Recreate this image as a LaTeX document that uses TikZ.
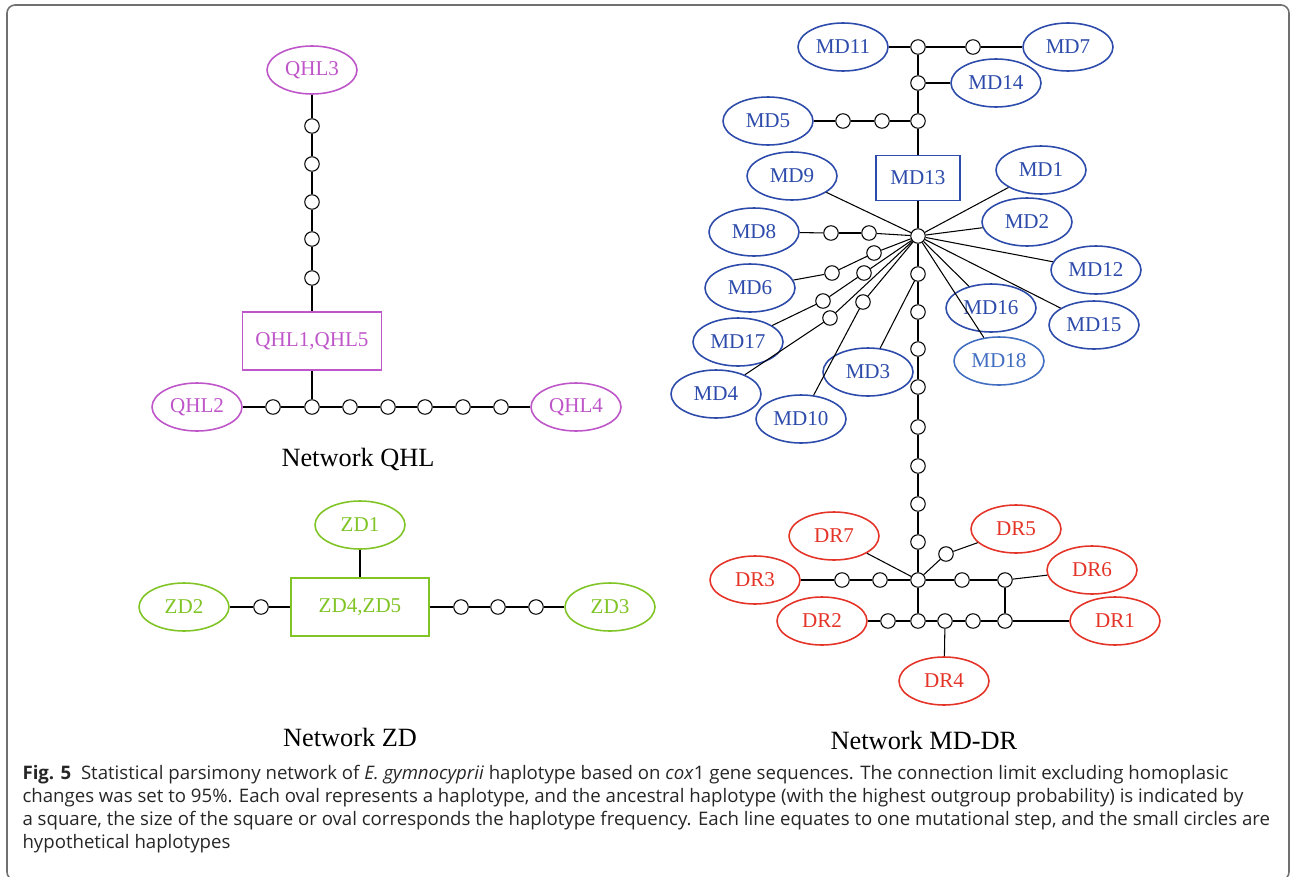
\documentclass[tikz,border=0pt]{standalone}
\usepackage{fontspec}
\setmainfont{Liberation Serif}
\newfontfamily\capfont{Open Sans}
\usepackage{tikz}
\usetikzlibrary{shapes}
\usepackage{xcolor}
\definecolor{qhl}{RGB}{190,85,200}
\definecolor{zd}{RGB}{128,196,38}
\definecolor{md}{RGB}{45,75,170}
\definecolor{mdl}{RGB}{65,110,192}
\definecolor{dr}{RGB}{228,52,40}
\definecolor{frame}{RGB}{112,112,112}

\begin{document}
\begin{tikzpicture}[x=0.02cm, y=-0.02cm, line width=0.6pt,
hap node/.style={ellipse, draw, line width=0.9pt, minimum width=1.8cm, minimum height=0.96cm, inner sep=0pt, font=\fontsize{12}{14}\selectfont},
anc node/.style={rectangle, draw, line width=0.9pt, inner sep=0pt, font=\fontsize{12}{14}\selectfont},
mv node/.style={circle, draw, fill=white, minimum size=0.29cm, inner sep=0pt},
net node/.style={font=\fontsize{15}{18}\selectfont}]
\useasboundingbox (0,0) rectangle (1292,876);
\draw[frame, line width=0.9pt, rounded corners=0.16cm] (7,5) rectangle (1289,880);

% QHL
\node[hap node, qhl] (qhl3) at (312,70) {QHL3};
\node[mv node] (q1) at (312,126) {};
\node[mv node] (q2) at (312,164) {};
\node[mv node] (q3) at (312,202) {};
\node[mv node] (q4) at (312,239) {};
\node[mv node] (q5) at (312,278) {};
\node[anc node, qhl, minimum width=2.78cm, minimum height=1.16cm] (qhl15) at (312,341) {QHL1,QHL5};
\node[hap node, qhl] (qhl2) at (197,407) {QHL2};
\node[mv node] (q6) at (273,407) {};
\node[mv node] (q7) at (312,407) {};
\node[mv node] (q8) at (350,407) {};
\node[mv node] (q9) at (388,407) {};
\node[mv node] (q10) at (425,407) {};
\node[mv node] (q11) at (463,407) {};
\node[mv node] (q12) at (501,407) {};
\node[hap node, qhl] (qhl4) at (576,407) {QHL4};
\node[net node] (netq) at (358,459) {Network QHL};
\path
(qhl3) edge (q1) (q1) edge (q2) (q2) edge (q3) (q3) edge (q4) (q4) edge (q5)
(q5) edge (qhl15) (qhl15) edge (q7)
(qhl2) edge (q6) (q6) edge (q7) (q7) edge (q8) (q8) edge (q9) (q9) edge (q10)
(q10) edge (q11) (q11) edge (q12) (q12) edge (qhl4);

% ZD
\node[hap node, zd] (zd1) at (360,525) {ZD1};
\node[anc node, zd, minimum width=2.76cm, minimum height=1.16cm] (zd45) at (360,607) {ZD4,ZD5};
\node[hap node, zd] (zd2) at (184,607) {ZD2};
\node[mv node] (z1) at (261,607) {};
\node[mv node] (z2) at (461,607) {};
\node[mv node] (z3) at (498,607) {};
\node[mv node] (z4) at (536,607) {};
\node[hap node, zd] (zd3) at (610,607) {ZD3};
\node[net node] (netz) at (350,737) {Network ZD};
\path
(zd1) edge (zd45)
(zd2) edge (z1) (z1) edge (zd45)
(zd45) edge (z2) (z2) edge (z3) (z3) edge (z4) (z4) edge (zd3);

% MD
\node[hap node, md] (md11) at (843,47) {MD11};
\node[mv node] (m1) at (918,47) {};
\node[mv node] (m2) at (973,47) {};
\node[hap node, md] (md7) at (1068,47) {MD7};
\node[mv node] (m3) at (918,83) {};
\node[hap node, md] (md14) at (996,83) {MD14};
\node[mv node] (m4) at (918,121) {};
\node[mv node] (m5) at (882,121) {};
\node[mv node] (m6) at (843,121) {};
\node[hap node, md] (md5) at (768,121) {MD5};
\node[anc node, md, minimum width=1.68cm, minimum height=0.9cm] (md13) at (918,178) {MD13};
\node[mv node] (m7) at (918,236) {};
\node[hap node, md] (md9) at (792,176) {MD9};
\node[hap node, md] (md1) at (1041,170) {MD1};
\node[hap node, md] (md2) at (1027,222) {MD2};
\node[hap node, md] (md8) at (754,232) {MD8};
\node[mv node] (m8) at (831,233) {};
\node[mv node] (m9) at (869,233) {};
\node[hap node, md] (md12) at (1096,270) {MD12};
\node[hap node, md] (md16) at (991,308) {MD16};
\node[hap node, md] (md15) at (1094,325) {MD15};
\node[hap node, mdl] (md18) at (999,361) {MD18};
\node[hap node, md] (md6) at (750,288) {MD6};
\node[mv node] (m10) at (874,253) {};
\node[mv node] (m11) at (832,273) {};
\node[hap node, md] (md17) at (738,342) {MD17};
\node[mv node] (m12) at (864,273) {};
\node[mv node] (m13) at (823,301) {};
\node[hap node, md] (md4) at (716,394) {MD4};
\node[mv node] (m14) at (830,318) {};
\node[hap node, md] (md10) at (801,419) {MD10};
\node[mv node] (m15) at (863,302) {};
\node[hap node, md] (md3) at (868,372) {MD3};
\node[mv node] (m16) at (918,274) {};
\node[mv node] (m17) at (918,312) {};
\node[mv node] (m18) at (918,349) {};
\node[mv node] (m19) at (918,387) {};
\node[mv node] (m20) at (918,427) {};
\node[mv node] (m21) at (918,466) {};
\node[mv node] (m22) at (918,504) {};
\node[mv node] (m23) at (918,542) {};
\path
(md11) edge (m1) (m1) edge (m2) (m2) edge (md7)
(m1) edge (m3) (m3) edge (md14) (m3) edge (m4)
(md5) edge (m6) (m6) edge (m5) (m5) edge (m4)
(m4) edge (md13) (md13) edge (m7)
(md9) edge (m7) (md1) edge (m7) (md2) edge (m7)
(md12) edge (m7) (md16) edge (m7) (md15) edge (m7) (md18) edge (m7)
(md8) edge (m8) (m8) edge (m9) (m9) edge (m7)
(md6) edge (m11) (m11) edge (m10) (m10) edge (m7)
(md17) edge (m13) (m13) edge (m12) (m12) edge (m7)
(md4) edge (m14) (m14) edge (m7)
(md10) edge (m15) (m15) edge (m7)
(m7) edge (m16) (m16) edge (md3)
(m16) edge (m17) (m17) edge (m18) (m18) edge (m19) (m19) edge (m20)
(m20) edge (m21) (m21) edge (m22) (m22) edge (m23);

% DR
\node[mv node] (d1) at (918,580) {};
\node[hap node, dr] (dr7) at (834,536) {DR7};
\node[hap node, dr] (dr5) at (1016,529) {DR5};
\node[mv node] (d2) at (946,554) {};
\node[hap node, dr] (dr3) at (755,580) {DR3};
\node[mv node] (d3) at (842,580) {};
\node[mv node] (d4) at (880,580) {};
\node[mv node] (d5) at (962,580) {};
\node[mv node] (d6) at (1005,580) {};
\node[hap node, dr] (dr6) at (1092,570) {DR6};
\node[hap node, dr] (dr2) at (822,621) {DR2};
\node[mv node] (d7) at (888,621) {};
\node[mv node] (d8) at (918,621) {};
\node[mv node] (d9) at (945,621) {};
\node[mv node] (d10) at (973,621) {};
\node[mv node] (d11) at (1005,621) {};
\node[hap node, dr] (dr1) at (1115,621) {DR1};
\node[hap node, dr] (dr4) at (944,681) {DR4};
\node[net node] (netm) at (924,740) {Network MD-DR};
\path
(m23) edge (d1) (dr7) edge (d1) (dr5) edge (d2) (d2) edge (d1)
(dr3) edge (d3) (d3) edge (d4) (d4) edge (d1)
(d1) edge (d5) (d5) edge (d6) (d6) edge (dr6) (d6) edge (d11)
(d1) edge (d8)
(dr2) edge (d7) (d7) edge (d8) (d8) edge (d9) (d9) edge (d10) (d10) edge (d11) (d11) edge (dr1)
(d9) edge (dr4);

% caption
\node[anchor=north west, align=left, inner sep=0pt, text=black!85, font=\capfont\fontsize{10.6}{13}\selectfont] (cap) at (22,765)
{\textbf{Fig. 5}\ \ Statistical parsimony network of \textit{E. gymnocyprii} haplotype based on \textit{cox}1 gene sequences. The connection limit excluding homoplasic\\
changes was set to 95\%. Each oval represents a haplotype, and the ancestral haplotype (with the highest outgroup probability) is indicated by\\
a square, the size of the square or oval corresponds the haplotype frequency. Each line equates to one mutational step, and the small circles are\\
hypothetical haplotypes};
\end{tikzpicture}
\end{document}
